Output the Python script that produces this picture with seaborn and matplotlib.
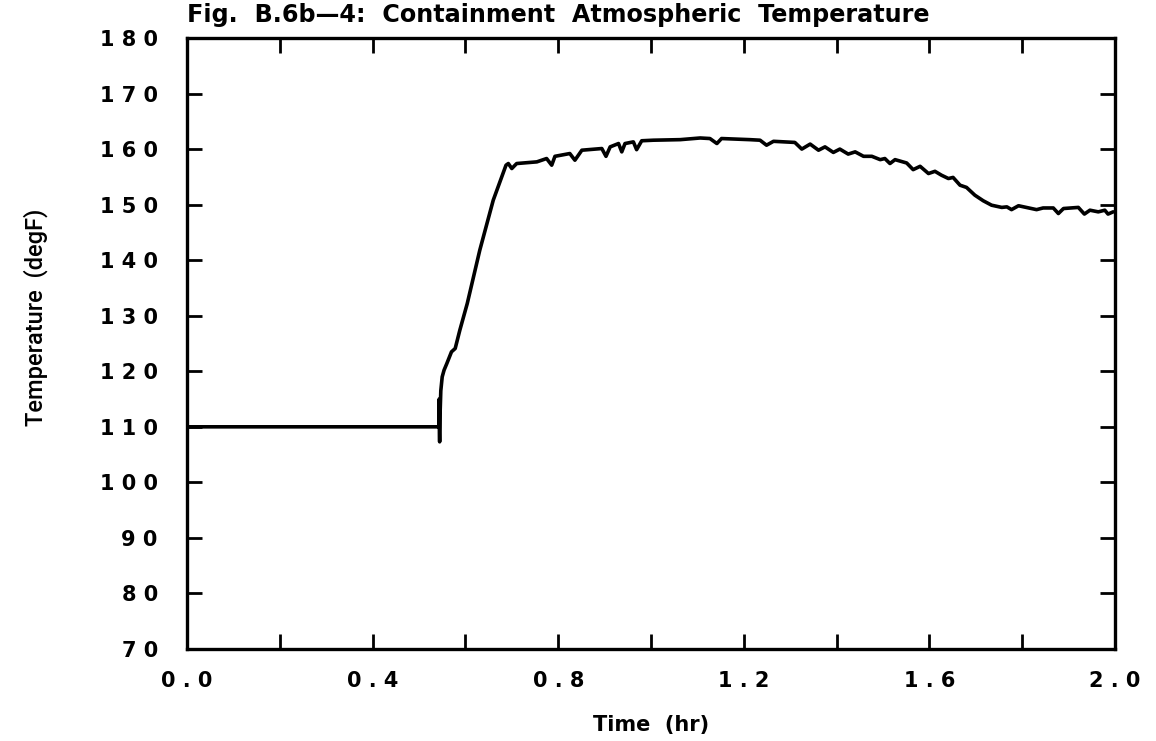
import numpy as np
import pandas as pd
import seaborn as sns
import matplotlib.pyplot as plt

# --- data ---
time_hr = [0.0, 0.543, 0.5435, 0.544, 0.5445, 0.5455, 0.547, 0.550, 0.554, 0.560,
           0.570, 0.578, 0.588, 0.604, 0.631, 0.660, 0.6875, 0.6925, 0.700, 0.7105,
           0.754, 0.775, 0.786, 0.793, 0.825, 0.836, 0.851, 0.894, 0.903, 0.912,
           0.930, 0.937, 0.944, 0.962, 0.969, 0.980, 1.005, 1.063, 1.106, 1.127,
           1.142, 1.152, 1.213, 1.235, 1.249, 1.264, 1.310, 1.325, 1.343, 1.361,
           1.375, 1.393, 1.407, 1.425, 1.440, 1.458, 1.476, 1.494, 1.504, 1.515,
           1.526, 1.551, 1.565, 1.580, 1.598, 1.612, 1.626, 1.641, 1.651, 1.666,
           1.680, 1.698, 1.716, 1.734, 1.756, 1.767, 1.777, 1.792, 1.831, 1.845,
           1.867, 1.878, 1.889, 1.921, 1.934, 1.946, 1.964, 1.978, 1.985, 1.996]
temp_degF = [110.0, 110.0, 115.0, 109.0, 107.3, 112.5, 116.5, 119.0, 120.2, 121.4,
             123.5, 124.1, 127.4, 132.2, 141.8, 150.8, 157.1, 157.4, 156.5, 157.4,
             157.7, 158.3, 157.1, 158.7, 159.2, 158.0, 159.8, 160.1, 158.7, 160.4,
             161.0, 159.5, 161.0, 161.3, 159.9, 161.5, 161.6, 161.7, 162.0, 161.9,
             161.0, 161.9, 161.7, 161.6, 160.7, 161.4, 161.2, 160.0, 160.9, 159.8,
             160.4, 159.4, 160.0, 159.1, 159.5, 158.7, 158.7, 158.1, 158.3, 157.4,
             158.1, 157.5, 156.3, 156.9, 155.6, 156.0, 155.3, 154.7, 154.9, 153.5,
             153.1, 151.7, 150.7, 149.9, 149.5, 149.6, 149.1, 149.8, 149.1, 149.4,
             149.4, 148.4, 149.3, 149.5, 148.3, 149.0, 148.7, 149.0, 148.3, 148.7]

x_ticks = [0.0, 0.2, 0.4, 0.6, 0.8, 1.0, 1.2, 1.4, 1.6, 1.8, 2.0]
x_labels = ['0 . 0', '', '0 . 4', '', '0 . 8', '', '1 . 2', '', '1 . 6', '', '2 . 0']
y_ticks = [70, 80, 90, 100, 110, 120, 130, 140, 150, 160, 170, 180]
y_labels = [' '.join(str(v)) for v in y_ticks]

df = pd.DataFrame({'time': time_hr, 'temp': temp_degF})

sns.set_style('ticks')
plt.rcParams['font.family'] = ['DejaVu Sans']
plt.rcParams['text.color'] = 'black'
plt.rcParams['axes.labelcolor'] = 'black'

fig = plt.figure(figsize=(11.56, 7.41), dpi=100)
ax = fig.add_axes([187 / 1156, 1 - 649 / 741, 928 / 1156, 611 / 741])

sns.lineplot(data=df, x='time', y='temp', color='black', linewidth=2.6,
             estimator=None, sort=False, ax=ax)

ax.set_xlim(0, 2.0)
ax.set_ylim(70, 180)
ax.set_xticks(x_ticks)
ax.set_xticklabels(x_labels)
ax.set_yticks(y_ticks)
ax.set_yticklabels(y_labels)

ax.tick_params(direction='in', length=11, width=2, top=True, right=True,
               labelsize=15, colors='black')
ax.tick_params(axis='y', pad=21)
ax.tick_params(axis='x', pad=16)
for lab in ax.get_xticklabels() + ax.get_yticklabels():
    lab.set_fontweight('bold')
for sp in ax.spines.values():
    sp.set_linewidth(2.4)
    sp.set_color('black')

ax.set_xlabel('Time  (hr)', fontsize=15, fontweight='bold', labelpad=17)
ax.set_ylabel('Temperature  (degF)', fontsize=17, fontweight='medium',
              family=['Roboto', 'DejaVu Sans'])
ax.yaxis.set_label_coords(-0.1498, 0.543)

fig.text(187 / 1156, 1 - 22 / 741,
         'Fig.  B.6b\u20144:  Containment  Atmospheric  Temperature',
         fontsize=17.2, fontweight='bold', ha='left', va='baseline')

fig.savefig('out.png', dpi=100, facecolor='white')
